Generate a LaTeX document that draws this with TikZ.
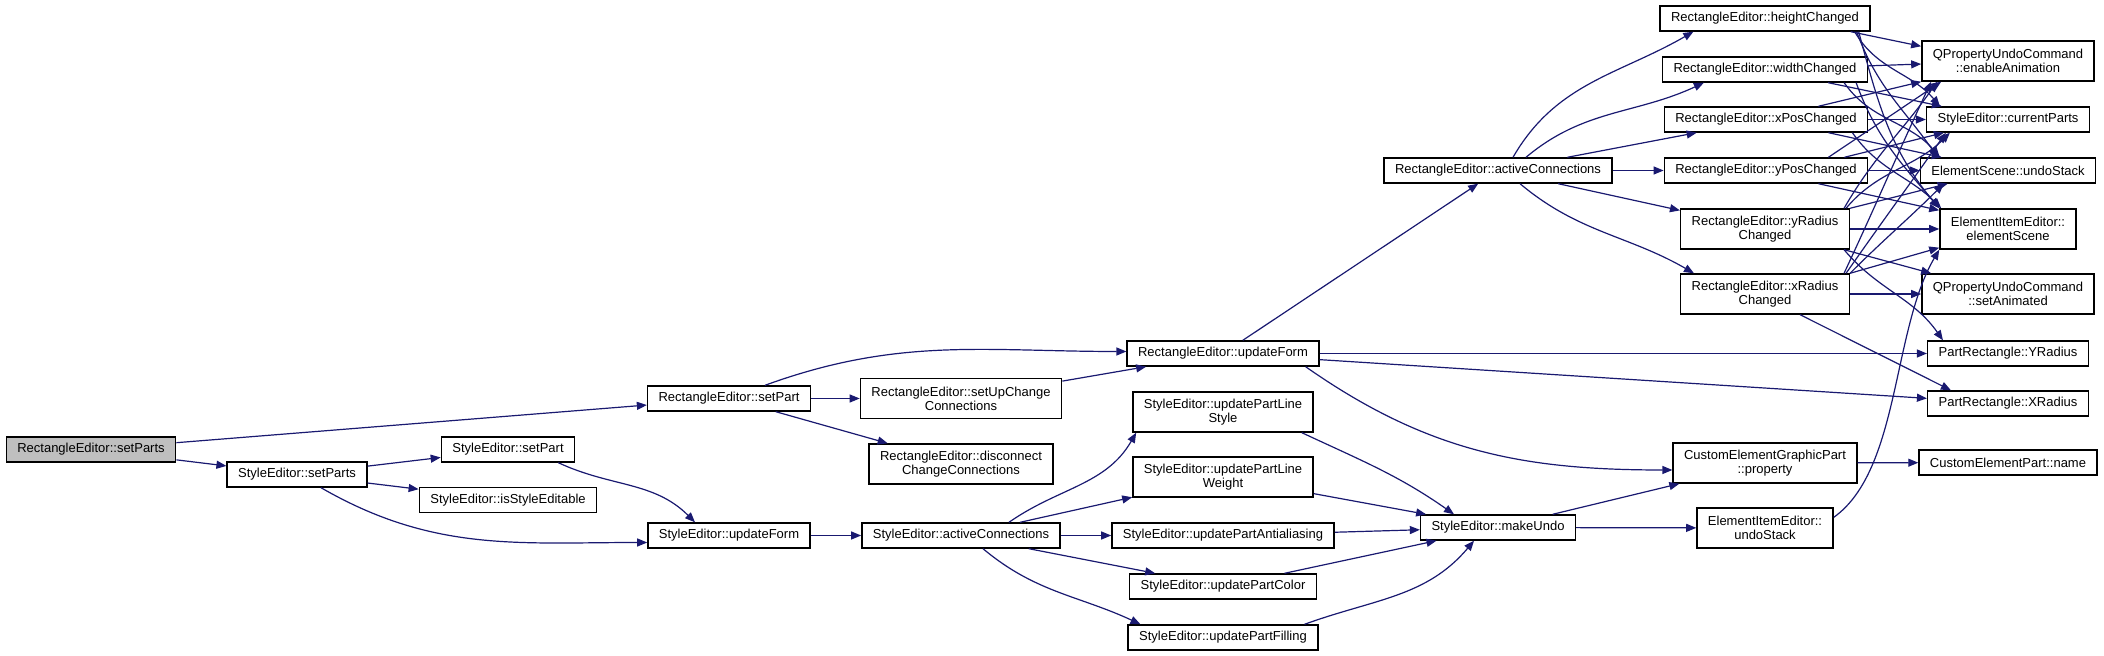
\documentclass[tikz,border=0pt]{standalone}
\usepackage{fontspec}
\setmainfont{Liberation Sans}
\usetikzlibrary{arrows.meta}
\definecolor{edgeblue}{RGB}{25,25,112}
\definecolor{rootgray}{RGB}{191,191,191}
\begin{document}
\begin{tikzpicture}[x=0.5pt,y=-0.5pt,
    fn/.style={draw,line width=0.7pt,fill=white,minimum height=12.5pt,
      inner xsep=5.5pt,inner ysep=1pt,font=\fontsize{6.5pt}{7pt}\selectfont},
    fn2/.style={fn,align=center,minimum height=20pt}]
      \useasboundingbox (0,0) rectangle (2104,656);
      \draw
        (91,449.5) node[fn,fill=rootgray] (0){RectangleEditor::setParts}
        (729,398.5) node[fn] (1){RectangleEditor::setPart}
        (297,474.5) node[fn] (2){StyleEditor::setParts}
        (508,449.5) node[fn] (3){StyleEditor::setPart}
        (508,500) node[fn] (4){StyleEditor::isStyleEditable}
        (729,535.5) node[fn] (5){StyleEditor::updateForm}
        (961,398.5) node[fn2] (6){RectangleEditor::setUpChange\\Connections}
        (961,464) node[fn2] (7){RectangleEditor::disconnect\\ChangeConnections}
        (1223,353.5) node[fn] (8){RectangleEditor::updateForm}
        (961,535.5) node[fn] (9){StyleEditor::activeConnections}
        (1223,412) node[fn2] (10){StyleEditor::updatePartLine\\Style}
        (1223,477) node[fn2] (11){StyleEditor::updatePartLine\\Weight}
        (1223,535.5) node[fn] (12){StyleEditor::updatePartAntialiasing}
        (1223,586.5) node[fn] (13){StyleEditor::updatePartColor}
        (1223,637.5) node[fn] (14){StyleEditor::updatePartFilling}
        (1498,170.5) node[fn] (15){RectangleEditor::activeConnections}
        (1498,527.5) node[fn] (16){StyleEditor::makeUndo}
        (1765,463) node[fn2] (17){CustomElementGraphicPart\\::property}
        (1765,528) node[fn2] (18){ElementItemEditor::\\undoStack}
        (2008,353.5) node[fn] (19){PartRectangle::YRadius}
        (2008,403.5) node[fn] (20){PartRectangle::XRadius}
        (2008,462.5) node[fn] (21){CustomElementPart::name}
        (1765,18.5) node[fn] (22){RectangleEditor::heightChanged}
        (1765,69.5) node[fn] (23){RectangleEditor::widthChanged}
        (1766,119.5) node[fn] (24){RectangleEditor::xPosChanged}
        (1766,170.5) node[fn] (25){RectangleEditor::yPosChanged}
        (1765,229) node[fn2] (26){RectangleEditor::yRadius\\Changed}
        (1765,294) node[fn2] (27){RectangleEditor::xRadius\\Changed}
        (2008,61) node[fn2] (28){QPropertyUndoCommand\\::enableAnimation}
        (2008,119.5) node[fn] (29){StyleEditor::currentParts}
        (2008,170.5) node[fn] (30){ElementScene::undoStack}
        (2008,229) node[fn2] (31){ElementItemEditor::\\elementScene}
        (2008,294) node[fn2] (32){QPropertyUndoCommand\\::setAnimated};
      \begin{scope}[-{Triangle[length=5pt,width=4pt]},draw=edgeblue,line width=0.6pt]
        \draw (0) to (1);
        \draw (0) to (2);
        \draw (2) to (3);
        \draw (2) to (4);
        \draw ([xshift=12pt]2.south) to[out=-30,in=180] ([yshift=-3.5pt]5.west);
        \draw ([xshift=-8.5pt]3.south east) to[out=-25,in=135] ([xshift=-17pt]5.north);
        \draw ([xshift=18pt]1.north) to[out=20,in=180] ([yshift=1pt]8.west);
        \draw (1) to (6);
        \draw (1) to (7);
        \draw (6) to (8);
        \draw (5) to (9);
        \draw ([xshift=24pt]9.north) to[out=35,in=-120] ([xshift=2pt]10.south west);
        \draw (9) to (11);
        \draw (9) to (12);
        \draw (9) to (13);
        \draw ([xshift=11pt]9.south) to[out=-40,in=155] ([xshift=6.5pt]14.north west);
        \draw (8) to (15);
        \draw (8) to (19);
        \draw (8) to (20);
        \draw ([xshift=-7pt]8.south east) to[out=-35,in=180] ([yshift=-3.5pt]17.west);
        \draw ([xshift=-6pt]10.south east) to[out=-25,in=145] ([xshift=-22pt]16.north);
        \draw (11) to (16);
        \draw (12) to (16);
        \draw (13) to (16);
        \draw ([xshift=-7pt]14.north east) to[out=20,in=-130] ([xshift=-12pt]16.south);
        \draw (16) to (17);
        \draw (16) to (18);
        \draw (17) to (21);
        \draw ([yshift=-5pt]18.north east) .. controls (1900,470) and (1892,330) .. (31.south west);
        \draw ([xshift=7.5pt]15.north) to[out=60,in=-150] ([xshift=17pt]22.south west);
        \draw ([xshift=14pt]15.north) to[out=40,in=-155] ([xshift=21pt]23.south west);
        \draw (15) to (24);
        \draw (15) to (25);
        \draw (15) to (26);
        \draw ([xshift=11pt]15.south) to[out=-40,in=150] ([xshift=7pt]27.north west);
        % heightChanged
        \draw ([xshift=-10pt]22.south east) to ([yshift=-3pt]28.north west);
        \draw ([xshift=-8pt]22.south east) to[out=-60,in=130] ([xshift=7pt]29.north west);
        \draw ([xshift=-7pt]22.south east) to[out=-70,in=125] ([xshift=9pt]30.north west);
        \draw ([xshift=-6pt]22.south east) to[out=-75,in=130] (31.north west);
        % widthChanged
        \draw (23) to (28);
        \draw ([xshift=-20pt]23.south east) to ([xshift=8pt]29.north west);
        \draw ([xshift=-12pt]23.south east) to[out=-55,in=130] ([xshift=10pt]30.north west);
        \draw ([xshift=-6pt]23.south east) to[out=-70,in=130] (31.north west);
        % xPosChanged
        \draw ([xshift=-25pt]24.north east) to (28.south west);
        \draw (24) to (29);
        \draw ([xshift=-20pt]24.south east) to ([xshift=11pt]30.north west);
        \draw ([xshift=-8pt]24.south east) to[out=-55,in=135] ([xshift=1pt]31.north west);
        % yPosChanged
        \draw ([xshift=-20pt]25.north east) to ([xshift=10pt]28.south west);
        \draw ([xshift=-12pt]25.north east) to ([xshift=9pt]29.south west);
        \draw (25) to (30);
        \draw ([xshift=-25pt]25.south east) to ([yshift=-1pt]31.north west);
        % yRadiusChanged
        \draw ([xshift=-3pt]26.north east) to[out=60,in=-125] ([xshift=8pt]28.south west);
        \draw ([xshift=-2pt]26.north east) to[out=50,in=-135] ([xshift=12pt]29.south west);
        \draw (26.north east) to ([xshift=14pt]30.south west);
        \draw (26) to (31);
        \draw ([xshift=-3pt]26.south east) to ([xshift=5pt]32.north west);
        \draw ([xshift=-3pt]26.south east) to[out=-50,in=125] ([xshift=8pt]19.north west);
        % xRadiusChanged
        \draw ([xshift=-3pt]27.north east) to[out=65,in=-115] ([xshift=5pt]28.south west);
        \draw ([xshift=-2pt]27.north east) to[out=55,in=-125] ([xshift=10pt]29.south west);
        \draw (27.north east) to[out=45,in=-135] ([xshift=12pt]30.south west);
        \draw (27.north east) to ([yshift=1pt]31.south west);
        \draw (27) to (32);
        \draw ([xshift=-25pt]27.south east) to ([xshift=12pt]20.north west);
      \end{scope}
    \end{tikzpicture}
\end{document}
